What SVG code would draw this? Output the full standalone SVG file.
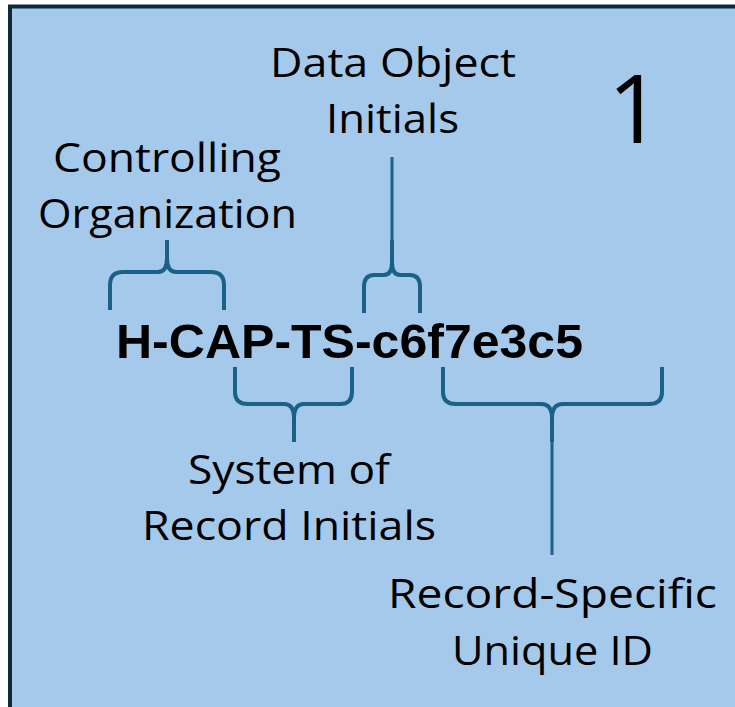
<svg xmlns="http://www.w3.org/2000/svg" width="735" height="707" viewBox="0 0 735 707">
<style>
.lbl{font-family:"Open Sans","Liberation Sans",sans-serif;font-size:40px;fill:#000;text-anchor:middle}
.brace{fill:none;stroke:#1B6187;stroke-width:4;stroke-linejoin:round}
.stem{fill:none;stroke:#1B6187;stroke-width:3}
</style>
<rect x="10" y="6.5" width="740" height="720" fill="#A5C9EB" stroke="#0D2A3B" stroke-width="4"/>
<g id="connectors">
<path class="brace" d="M110,310 L110,285 Q110,272 123,272 L158,272 Q167,272 167,258 L167,240 M167,258 Q167,272 176,272 L211,272 Q224,272 224,285 L224,310"/>
<path class="brace" d="M364,313 L364,287 Q364,275 374,275 L384,275 Q392,275 392,262 L392,240 M392,262 Q392,275 400,275 L410,275 Q420,275 420,287 L420,313"/>
<line class="stem" x1="392" y1="157" x2="392" y2="242"/>
<path class="brace" d="M235,367 L235,392 Q235,404 248,404 L284,404 Q294,404 294,418 L294,442 M294,418 Q294,404 304,404 L340,404 Q352,404 352,392 L352,367"/>
<path class="brace" d="M443,367 L443,392 Q443,404 456,404 L541,404 Q552,404 552,418 L552,442 M552,418 Q552,404 563,404 L649,404 Q662,404 662,392 L662,367"/>
<line class="stem" x1="552" y1="440" x2="552" y2="555"/>
</g>
<g id="id-code"><text x="349.5" y="358" font-family="Liberation Sans, Arial, sans-serif" font-weight="bold" font-size="48" text-anchor="middle" textLength="467" lengthAdjust="spacingAndGlyphs">H-CAP-TS-c6f7e3c5</text></g>
<g id="number"><text x="635" y="143" font-family="Open Sans, Liberation Sans, sans-serif" font-size="95" text-anchor="middle">1</text></g>
<g id="data-object"><text class="lbl" x="393" y="77" textLength="246" lengthAdjust="spacingAndGlyphs">Data Object</text><text class="lbl" x="392.5" y="133" textLength="133" lengthAdjust="spacingAndGlyphs">Initials</text></g>
<g id="controlling-org"><text class="lbl" x="167" y="172" textLength="228" lengthAdjust="spacingAndGlyphs">Controlling</text><text class="lbl" x="167.5" y="228" textLength="259" lengthAdjust="spacingAndGlyphs">Organization</text></g>
<g id="system-of-record"><text class="lbl" x="289" y="484" textLength="202" lengthAdjust="spacingAndGlyphs">System of</text><text class="lbl" x="289" y="540" textLength="294" lengthAdjust="spacingAndGlyphs">Record Initials</text></g>
<g id="record-specific"><text class="lbl" x="552.5" y="608" textLength="329" lengthAdjust="spacingAndGlyphs">Record-Specific</text><text class="lbl" x="552.5" y="665" textLength="201" lengthAdjust="spacingAndGlyphs">Unique ID</text></g>
</svg>
